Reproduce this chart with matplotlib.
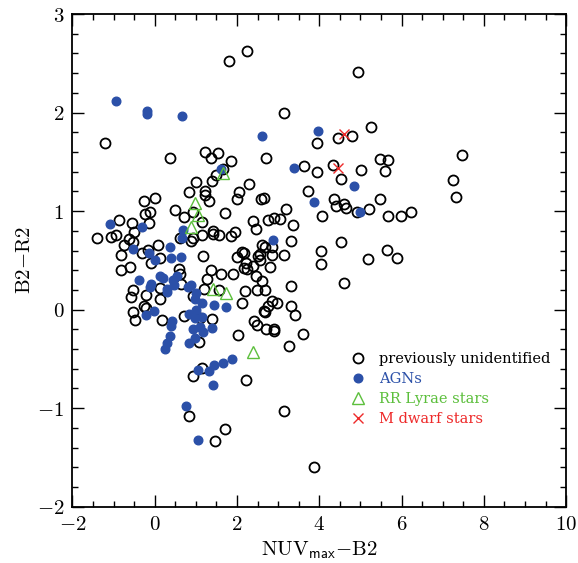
import numpy as np
import matplotlib.pyplot as plt
from matplotlib.ticker import MultipleLocator, FuncFormatter

plt.rcParams['mathtext.fontset'] = 'cm'
plt.rcParams['font.family'] = ['DejaVu Serif']

# previously unidentified sources (NUVmax-B2, B2-R2)
unid_x = [2.25, 1.81, 4.93, -1.20, 3.14, 0.38, 1.22, 1.36, 1.54, 1.85, 2.71, 3.63, 3.94, 3.94,
          1.67, 1.48, 1.38, 1.01, 2.28, 0.84, 1.22, 1.23, 1.32, 2.05, 2.01, 2.59, 2.66, 3.73,
          -0.25, 0.00, 0.49, 0.94, 0.72, 1.16, 1.71, -0.23, -0.11, -0.88, -0.55, -0.14, -0.50,
          -0.93, -1.06, -1.40, -0.75, -0.63, -0.52, -0.17, -0.30, 0.08, -0.81, 0.62, 0.93, 0.89,
          1.15, 1.41, 1.41, 1.57, 1.96, 1.85, 2.39, 2.47, 2.76, 2.91, 3.05, 3.20, 3.37, 3.32,
          2.60, 2.67, 2.85, 2.12, 2.18, 2.56, 2.50, 3.13, 1.17, 2.00, 2.85,
          5.25, 4.45, 4.80, 7.46, 5.47, 5.68, 4.34, 5.01, 5.60, 4.52, 7.25, 4.36, 4.40, 4.59,
          4.66, 4.91, 5.20, 5.47, 7.33, 4.07, 5.68, 5.98, 6.23, 4.52, 4.03, 5.64, 5.19, 5.90,
          4.05, 4.61, 3.60, 3.88,
          2.23, 2.17, 2.24, 2.39, 2.80, 1.36, 1.61, 1.91, 2.46, 1.28, 2.60, 3.31, 1.19, 2.19,
          2.48, 2.67, 2.11, 2.84, 2.97, 2.75, 3.31, 2.66, 2.68, 3.41, 1.38, 2.42, 2.48, 2.71,
          2.91, 2.90, 2.02, 3.26, 2.55, 1.55,
          0.13, -0.08, -0.60, -0.81, 0.58, 0.61, 0.64, -0.54, -0.58, -0.21, 0.12, 0.13, -0.25,
          -0.21, -0.54, -0.47, 0.17, 0.72, 0.94, 1.10,
          1.08, 0.93, 1.16, 0.84, 1.70, 1.46, 2.23, 3.13]
unid_y = [2.62, 2.52, 2.41, 1.69, 2.00, 1.54, 1.60, 1.54, 1.59, 1.51, 1.54, 1.46, 1.69, 1.40,
          1.43, 1.37, 1.31, 1.30, 1.27, 1.19, 1.20, 1.16, 1.10, 1.19, 1.12, 1.12, 1.13, 1.20,
          1.10, 1.13, 1.01, 0.99, 0.94, 0.89, 0.98, 0.97, 0.99, 0.91, 0.88, 0.88, 0.79,
          0.76, 0.74, 0.73, 0.66, 0.72, 0.69, 0.61, 0.57, 0.66, 0.55, 0.73, 0.73, 0.70,
          0.76, 0.80, 0.77, 0.76, 0.79, 0.75, 0.90, 0.82, 0.91, 0.93, 0.92, 1.02, 0.86, 0.70,
          0.66, 0.64, 0.64, 0.58, 0.57, 0.56, 0.54, 0.55, 0.54, 0.53, 0.55,
          1.85, 1.74, 1.76, 1.57, 1.53, 1.52, 1.47, 1.42, 1.41, 1.33, 1.32, 1.12, 1.05, 1.07,
          1.03, 0.99, 1.02, 1.12, 1.14, 0.95, 0.95, 0.95, 0.99, 0.69, 0.59, 0.61, 0.51, 0.52,
          0.46, 0.27, -0.25, -1.60,
          0.47, 0.42, 0.41, 0.44, 0.43, 0.40, 0.36, 0.36, 0.34, 0.31, 0.29, 0.24, 0.21, 0.19,
          0.20, 0.20, 0.07, 0.09, 0.07, 0.04, 0.04, -0.01, -0.02, -0.05, -0.10, -0.12, -0.16, -0.20,
          -0.20, -0.22, -0.26, -0.37, 0.50, 0.20,
          0.52, 0.47, 0.43, 0.40, 0.41, 0.36, 0.26, 0.20, 0.13, 0.15, 0.22, 0.11, 0.04,
          0.02, -0.02, -0.11, -0.11, -0.06, 0.14, -0.08,
          -0.33, -0.67, -0.59, -1.08, -1.21, -1.33, -0.71, -1.03]

agn_x = [-0.93, -0.20, -0.20, 0.67, 2.60, 3.39, 3.98, 1.60, 3.88, 4.85, 5.00, 2.88,
         -1.08, -0.32, 0.68, 0.67, -0.52, 0.37, -0.13, 0.39, 0.65, 0.01, -0.39, -0.10, -0.11,
         0.13, 0.21, 0.45, 0.55, 0.29, 0.30, 0.47, 0.88, 0.82, 1.00, 0.98, 1.14, 1.44, 1.74,
         -0.21, -0.01, 0.43, 0.39, 0.84, 0.98, 1.15, 1.00, 1.09, 1.17, 0.92, 1.38, 0.37, 0.98,
         0.84, 0.29, 0.25, 1.88, 1.66, 1.43, 1.33, 1.06, 1.42, 0.75, 1.06]
agn_y = [2.12, 2.02, 1.99, 1.97, 1.76, 1.44, 1.81, 1.43, 1.09, 1.25, 0.99, 0.71,
         0.87, 0.84, 0.81, 0.73, 0.62, 0.64, 0.57, 0.52, 0.53, 0.50, 0.30, 0.26, 0.23,
         0.34, 0.32, 0.30, 0.34, 0.21, 0.18, 0.25, 0.25, 0.23, 0.17, 0.11, 0.07, 0.05, 0.03,
         -0.05, -0.01, -0.12, -0.17, -0.04, -0.09, -0.07, 0.00, -0.18, -0.23, -0.20, -0.19, -0.27, -0.29,
         -0.34, -0.34, -0.40, -0.50, -0.54, -0.56, -0.62, -0.61, -0.76, -0.98, -1.32]

rr_x = [1.67, 0.99, 1.05, 0.89, 1.42, 1.74, 2.39]
rr_y = [1.39, 1.08, 0.96, 0.84, 0.21, 0.17, -0.43]

md_x = [4.60, 4.46]
md_y = [1.78, 1.44]

blue = '#2b50a8'
green = '#5cbf3c'
red = '#ee2a2a'

fig = plt.figure(figsize=(5.78, 5.63), dpi=100)
ax = fig.add_axes([0.1254, 0.1, 0.854, 0.8751])

ax.plot(unid_x, unid_y, 'o', ls='none', mfc='none', mec='black', mew=1.3, ms=7.2,
        label='previously unidentified')
ax.plot(agn_x, agn_y, 'o', ls='none', mfc=blue, mec=blue, ms=6.2, label='AGNs')
ax.plot(rr_x, rr_y, '^', ls='none', mfc='none', mec=green, mew=1.0, ms=8,
        label='RR Lyrae stars')
ax.plot(md_x, md_y, 'x', ls='none', color=red, mew=1.0, ms=7, label='M dwarf stars')

ax.set_xlim(-2, 10)
ax.set_ylim(-2, 3)
ax.xaxis.set_major_locator(MultipleLocator(2))
ax.xaxis.set_minor_locator(MultipleLocator(0.5))
ax.yaxis.set_major_locator(MultipleLocator(1))
ax.yaxis.set_minor_locator(MultipleLocator(0.2))
fmt = FuncFormatter(lambda v, p: r'$%d$' % round(v))
ax.xaxis.set_major_formatter(fmt)
ax.yaxis.set_major_formatter(fmt)
ax.tick_params(which='both', direction='in', top=True, right=True, width=1.0,
               labelsize=15, pad=6)
ax.tick_params(which='major', length=8.5)
ax.tick_params(which='minor', length=4.3)
for s in ax.spines.values():
    s.set_linewidth(1.3)

ax.set_xlabel(r'$\mathrm{NUV}_{\mathsf{max}}\mathrm{{-}B2}$', fontsize=15, labelpad=4)
ax.set_ylabel(r'$\mathrm{B2{-}R2}$', fontsize=15, labelpad=2)

leg = ax.legend(loc='upper left', bbox_to_anchor=(0.538, 0.34), frameon=False,
                handlelength=1.0, handletextpad=0.9, labelspacing=0.4,
                prop={'family': 'DejaVu Serif', 'size': 10.5}, labelcolor='markeredgecolor')
leg.texts[2].set_color(green)

fig.savefig('out.png', dpi=100)
